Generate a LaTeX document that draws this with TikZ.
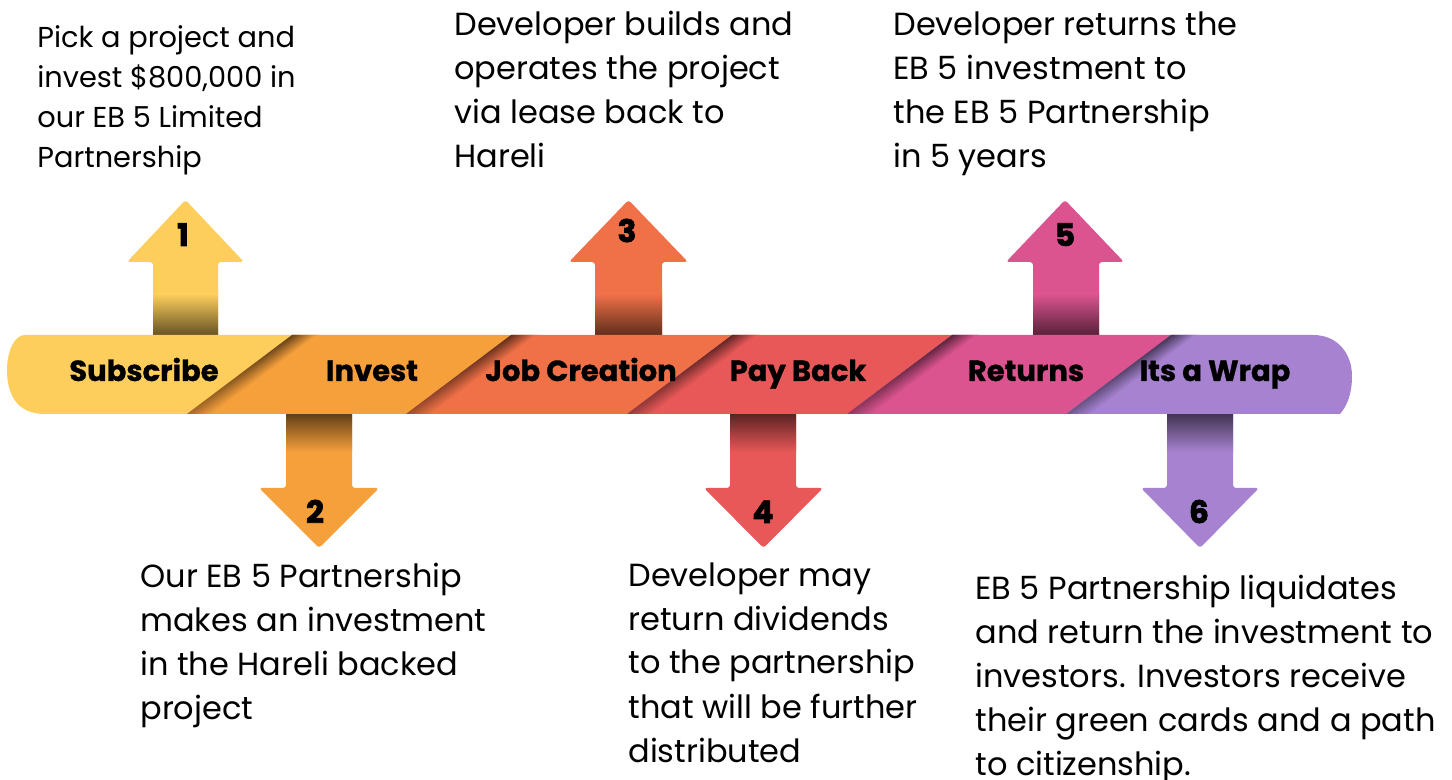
\documentclass[tikz,border=0pt]{standalone}
\usepackage{fontspec}
\setmainfont{Poppins}
\definecolor{cYel}{RGB}{253,206,92}
\definecolor{cOrg}{RGB}{246,160,60}
\definecolor{cCor}{RGB}{240,113,72}
\definecolor{cRed}{RGB}{232,88,88}
\definecolor{cPnk}{RGB}{219,84,143}
\definecolor{cPur}{RGB}{166,130,208}
\tikzset{
  bodytext/.style={anchor=base west, inner sep=0pt, align=left, font=\fontsize{16}{22}\selectfont},
  smalltext/.style={anchor=base west, inner sep=0pt, align=left, font=\fontsize{14.4}{20}\selectfont},
  barlabel/.style={anchor=base, inner sep=0pt, font=\fontsize{14.5}{16}\selectfont\bfseries\addfontfeatures{FakeBold=1}},
  numlabel/.style={anchor=base, inner sep=0pt, font=\fontsize{15.5}{17}\selectfont\bfseries\addfontfeatures{FakeBold=2.5}},
  arrowshape/.style={rounded corners=1.5pt}
}
% up arrow: #1 shaft left, #2 shaft right, #3 head left, #4 head right, #5 colour
\newcommand\uparrowshape[5]{%
  \fill[#5, arrowshape] (#1,340) -- (#1,262) -- (#3,262) -- ({(#3+#4)/2},200) -- (#4,262) -- (#2,262) -- (#2,340) -- cycle;
  \shade[top color=#5, bottom color=#5!40!black] (#1,294) rectangle (#2,335);
}
\newcommand\downarrowshape[5]{%
  \fill[#5, arrowshape] (#1,410) -- (#1,488) -- (#3,488) -- ({(#3+#4)/2},548) -- (#4,488) -- (#2,488) -- (#2,410) -- cycle;
  \shade[bottom color=#5, top color=#5!40!black] (#1,414) rectangle (#2,452);
}
% shadow right of a diagonal boundary: #1 bottom x, #2 colour
\newcommand\segshadow[2]{%
  \foreach \i in {0,...,11}{%
    \pgfmathtruncatemacro\pt{42+\i*58/11}%
    \pgfmathtruncatemacro\pb{68+\i*32/11}%
    \shade[top color=#2!\pt!black, bottom color=#2!\pb!black] ({#1+2.2*\i},414) -- ({#1+105+2.2*\i},335) -- ({#1+105+2.2*\i+2.8},335) -- ({#1+2.2*\i+2.8},414) -- cycle;
  }%
}
\begin{document}
\begin{tikzpicture}[x=0.5pt,y=-0.5pt]
\useasboundingbox (0,0) rectangle (1452,780);
\fill[white] (0,0) rectangle (1452,780);
% arrows
\uparrowshape{153}{218}{127}{244}{cYel}
\uparrowshape{595}{662}{569}{688}{cCor}
\uparrowshape{1033}{1099}{1006}{1124}{cPnk}
\downarrowshape{286}{352}{259}{379}{cOrg}
\downarrowshape{730}{796}{704}{823}{cRed}
\downarrowshape{1167}{1233}{1141}{1259}{cPur}
% bar
\fill[cYel] (25,335) -- (300,335) -- (195,414) -- (45,414)
  .. controls (15,414) and (7,392) .. (7,370)
  .. controls (7,352) and (14,335) .. (25,335) -- cycle;
\fill[cOrg] (187,414) -- (292,335) -- (512,335) -- (406,414) -- cycle;
\fill[cCor] (406,414) -- (512,335) -- (732,335) -- (627,414) -- cycle;
\fill[cRed] (627,414) -- (732,335) -- (952,335) -- (847,414) -- cycle;
\fill[cPnk] (847,414) -- (952,335) -- (1172,335) -- (1066,414) -- cycle;
\fill[cPur] (1066,414) -- (1172,335) -- (1313,335)
  .. controls (1338,335) and (1352,354) .. (1352,376)
  .. controls (1352,394) and (1347,406) .. (1340,414) -- cycle;
\segshadow{187}{cOrg}
\segshadow{406}{cCor}
\segshadow{627}{cRed}
\segshadow{847}{cPnk}
\segshadow{1066}{cPur}
% bar labels
\node[barlabel] (l1) at (144,381) {Subscribe};
\node[barlabel] (l2) at (372,381) {Invest};
\node[barlabel] (l3) at (581,381) {Job Creation};
\node[barlabel] (l4) at (798,381) {Pay Back};
\node[barlabel] (l5) at (1026,381) {Returns};
\node[barlabel] (l6) at (1215,381) {Its a Wrap};
% numbers
\node[numlabel] (n1) at (183,246) {1};
\node[numlabel] (n3) at (627,242) {3};
\node[numlabel] (n5) at (1065,246) {5};
\node[numlabel] (n2) at (315,523) {2};
\node[numlabel] (n4) at (763,523) {4};
\node[numlabel] (n6) at (1199,523) {6};
% texts (anchor = baseline of the last line)
\node[smalltext] (t1) at (37,168) {Pick a project and\\invest \$800,000 in\\our EB 5 Limited\\Partnership};
\node[bodytext] (t3) at (454,168) {Developer builds and\\operates the project\\via lease back to\\Hareli};
\node[bodytext] (t5) at (893,168) {Developer returns the\\EB 5 investment to\\the EB 5 Partnership\\in 5 years};
\node[bodytext] (t2) at (140,719) {Our EB 5 Partnership\\makes an investment\\in the Hareli backed\\project};
\node[bodytext] (t4) at (628,762) {Developer may\\return dividends\\to the partnership\\that will be further\\distributed};
\node[bodytext] (t6) at (975,775) {EB 5 Partnership liquidates\\and return the investment to\\investors. Investors receive\\their green cards and a path\\to citizenship.};
\end{tikzpicture}
\end{document}
